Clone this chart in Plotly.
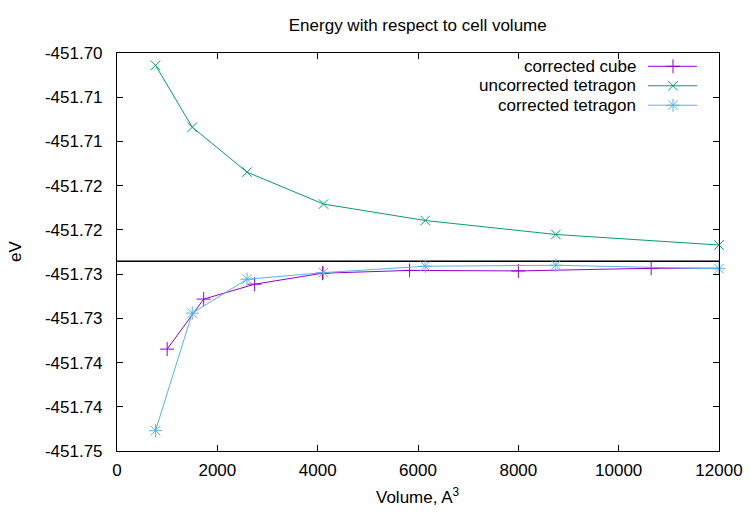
import plotly.graph_objects as go

# ---- data ----
cube_volume = [1000, 1728, 2744, 4096, 5832, 8000, 10648, 13824]
cube_energy = [-451.73348, -451.72783, -451.72614, -451.72490, -451.72458,
               -451.72464, -451.72434, -451.72432]

tet_volume = [768, 1500, 2592, 4116, 6144, 8748, 12000]
tet_uncorrected = [-451.70139, -451.70839, -451.71347, -451.71708, -451.71894,
                   -451.72052, -451.72171]
tet_corrected = [-451.74270, -451.72941, -451.72558, -451.72483, -451.72411,
                 -451.72400, -451.72439]

reference_energy = -451.72355
reference_x = [0, 12000]

x_ticks = [0, 2000, 4000, 6000, 8000, 10000, 12000]
x_tick_text = ["0", "2000", "4000", "6000", "8000", "10000", "12000"]
y_ticks = [-451.700, -451.705, -451.710, -451.715, -451.720,
           -451.725, -451.730, -451.735, -451.740, -451.745]
y_tick_text = ["-451.70", "-451.71", "-451.71", "-451.72", "-451.72",
               "-451.73", "-451.73", "-451.74", "-451.74", "-451.75"]

series_names = ["corrected cube", "uncorrected tetragon", "corrected tetragon"]
series_colors = ["#9400d3", "#009e73", "#56b4e9"]
series_symbols = ["cross-thin-open", "x-thin-open", "asterisk-open"]
series_sizes = [10, 9.5, 11]

FONT = "Liberation Sans, Arial, sans-serif"
FS = 17

fig = go.Figure()

# reference horizontal line
fig.add_trace(go.Scatter(x=reference_x, y=[reference_energy] * 2, mode="lines",
                         line=dict(color="black", width=1.5), showlegend=False,
                         hoverinfo="skip"))

data = [(cube_volume, cube_energy, True),
        (tet_volume, tet_uncorrected, False),
        (tet_volume, tet_corrected, False)]
for (xs, ys, clip), name, col, sym, sz in zip(data, series_names, series_colors,
                                               series_symbols, series_sizes):
    fig.add_trace(go.Scatter(
        x=xs, y=ys, mode="lines+markers", name=name, cliponaxis=clip,
        line=dict(color=col, width=1),
        marker=dict(symbol=sym, size=sz, color=col, line=dict(color=col, width=1)),
        showlegend=False))

# custom gnuplot-style key (text on left, sample on right)
row_y = [0.9666, 0.9177, 0.8688]
for name, col, sym, sz, ry in zip(series_names, series_colors, series_symbols,
                                  series_sizes, row_y):
    fig.add_trace(go.Scatter(
        x=[0.882, 0.9635], y=[ry, ry], xaxis="x2", yaxis="y2",
        mode="lines", line=dict(color=col, width=1),
        showlegend=False, hoverinfo="skip"))
    fig.add_trace(go.Scatter(
        x=[0.9236], y=[ry], xaxis="x2", yaxis="y2", mode="markers",
        marker=dict(symbol=sym, size=sz, color=col, line=dict(color=col, width=1)),
        showlegend=False, hoverinfo="skip"))
    fig.add_annotation(x=0.8654, y=ry, xref="paper", yref="paper", text=name,
                       showarrow=False, xanchor="right", yanchor="middle",
                       font=dict(family=FONT, size=FS, color="black"))

axis_common = dict(showline=True, linecolor="black", linewidth=1, mirror="ticks",
                   ticks="inside", ticklen=6, tickcolor="black", tickwidth=1,
                   showgrid=False, zeroline=False, automargin=False,
                   tickfont=dict(family=FONT, size=FS, color="black"))

fig.update_layout(
    template="none",
    width=750, height=525,
    margin=dict(l=117, r=31, t=52.7, b=73.6, pad=0, autoexpand=False),
    paper_bgcolor="white", plot_bgcolor="white",
    font=dict(family=FONT, size=FS, color="black"),
    title=dict(text="Energy with respect to cell volume", x=0.557, xanchor="center",
               y=1 - 25 / 525, yanchor="middle",
               font=dict(family=FONT, size=FS, color="black")),
    xaxis=dict(range=[0, 12000], tickvals=x_ticks, ticktext=x_tick_text,
               ticklabelstandoff=4, **axis_common),
    yaxis=dict(range=[-451.745, -451.700], tickvals=y_ticks, ticktext=y_tick_text,
               ticklabelstandoff=10, **axis_common),
    xaxis2=dict(overlaying="x", range=[0, 1], visible=False, automargin=False),
    yaxis2=dict(overlaying="y", range=[0, 1], visible=False, automargin=False),
    showlegend=False,
)

fig.add_annotation(x=0.5, y=-0.114, xref="paper", yref="paper",
                   text="Volume, A<sup>3</sup>", showarrow=False,
                   xanchor="center", yanchor="middle",
                   font=dict(family=FONT, size=FS, color="black"))
fig.add_annotation(x=-0.1694, y=0.5, xref="paper", yref="paper", text="eV",
                   textangle=-90, showarrow=False, xanchor="center", yanchor="middle",
                   font=dict(family=FONT, size=FS, color="black"))

fig.write_html("out.html")
